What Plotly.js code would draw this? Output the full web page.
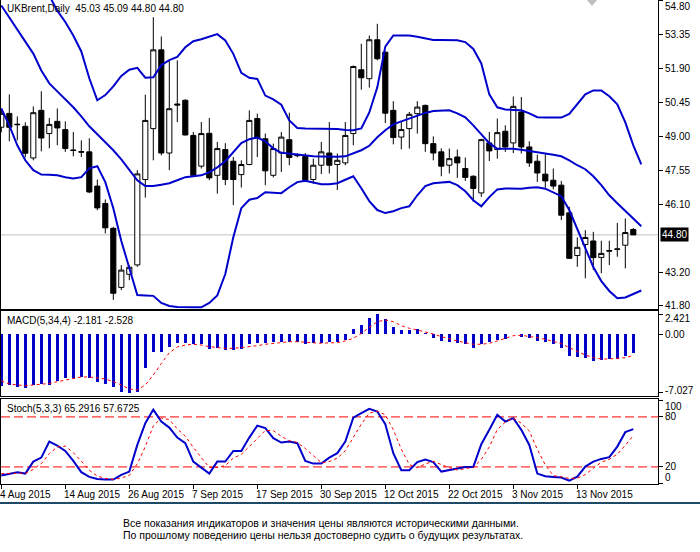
<!DOCTYPE html>
<html>
<head>
<meta charset="utf-8">
<script src="https://cdn.plot.ly/plotly-3.0.1.min.js"></script>
<style>
html,body{margin:0;padding:0;background:#ffffff;}
#chart{width:700px;height:552px;}
</style>
</head>
<body>
<div id="chart"></div>
<script>
// ---------- DATA ----------
const symbolTitle = "UKBrent,Daily\u00a0\u00a045.03 45.09 44.80 44.80";
const macdTitle = "MACD(5,34,4) -2.181 -2.528";
const stochTitle = "Stoch(5,3,3) 65.2916 57.6725";
const lastPrice = 44.80;

const dateLabels = ["4 Aug 2015","14 Aug 2015","26 Aug 2015","7 Sep 2015","17 Sep 2015",
                    "30 Sep 2015","12 Oct 2015","22 Oct 2015","3 Nov 2015","13 Nov 2015"];
const dateBars = [0,8,16,24,32,40,48,56,64,72];

const priceTicks = [54.80,53.35,51.90,50.45,49.00,47.55,46.10,43.20,41.80];
const macdTicks = [2.421,0,-7.027];
const stochTicks = [100,80,20,0];

const openP = [49.39,49.98,49.52,49.43,48.08,50.11,49.12,49.64,49.29,48.42,
               48.35,48.34,46.88,46.14,45.08,42.56,43.12,43.52,47.16,49.33,
               52.69,48.29,50.38,50.54,49.04,47.73,49.13,47.34,48.44,47.94,
               47.37,47.80,49.76,48.90,47.34,48.29,48.86,48.20,48.15,47.16,
               47.77,48.29,47.80,47.87,49.12,51.84,51.46,53.12,52.59,50.11,
               48.97,49.33,49.97,50.32,48.69,48.34,47.77,48.12,47.63,47.30,
               46.59,48.72,48.44,49.22,48.72,50.04,48.55,47.94,47.39,47.13,
               46.92,45.74,43.92,44.39,44.54,43.84,44.13,44.18,44.36,45.03];
const highP = [50.19,50.79,49.85,49.60,50.28,50.92,49.78,50.19,49.64,49.19,
               48.83,48.92,47.16,46.31,45.14,43.51,43.51,47.56,50.78,54.08,
               53.26,52.24,52.24,50.58,49.19,49.61,49.78,48.76,48.71,48.12,
               47.98,50.11,49.97,49.12,48.69,49.19,50.01,48.28,48.29,48.05,
               48.76,49.61,48.27,49.61,52.02,52.95,53.30,53.80,52.62,50.50,
               49.61,50.04,50.50,50.36,49.00,48.49,48.48,48.44,48.10,47.34,
               48.90,49.19,49.76,49.47,50.70,50.68,48.79,48.22,48.24,47.63,
               47.10,46.00,44.69,45.00,44.93,44.55,44.55,45.31,45.50,45.09];
const lowP  = [49.17,48.79,48.83,48.11,47.98,48.36,48.49,48.62,48.34,48.15,
               48.12,46.58,45.85,44.86,42.03,42.45,42.87,43.44,46.39,47.98,
               48.19,47.56,49.61,49.04,47.27,47.63,47.13,46.56,46.92,46.07,
               46.82,47.77,48.12,46.92,47.25,47.48,47.77,48.11,47.05,46.98,
               47.39,47.42,46.71,47.77,48.62,50.99,51.08,52.24,49.57,48.66,
               48.45,48.48,49.12,48.34,47.98,47.30,47.42,47.23,47.10,46.21,
               46.42,47.95,48.05,48.34,48.29,48.27,47.70,47.06,46.81,46.74,
               45.43,43.77,43.44,42.95,43.30,43.16,43.51,43.87,43.37,44.80];
const closeP = [49.98,49.39,49.50,48.28,50.01,48.93,49.51,49.36,48.48,48.40,
               48.33,46.63,45.95,45.10,42.31,43.30,43.42,47.40,49.68,52.69,
               48.29,50.18,50.34,49.06,47.34,49.12,47.23,48.48,47.16,47.16,
               47.80,49.68,48.93,47.53,48.48,48.97,48.10,48.18,47.13,47.77,
               48.34,47.77,47.98,49.04,51.98,51.50,53.12,52.31,49.99,48.95,
               49.29,49.94,50.25,48.69,48.29,47.73,48.05,47.87,47.25,46.78,
               48.86,48.38,49.16,48.55,50.28,48.55,47.87,47.44,47.10,46.88,
               45.64,43.80,44.27,44.69,43.83,44.01,44.11,44.20,44.90,44.80];

// Bollinger bands (drawn one bar further right than the last candle)
const bbUpper = [58.97,58.67,58.58,58.20,57.50,56.25,55.00,54.36,53.88,53.30,
                 52.62,51.48,50.54,50.76,51.13,51.58,51.84,51.92,51.50,51.52,
                 52.04,52.25,52.39,52.80,53.06,53.14,53.26,53.36,53.09,52.52,
                 51.71,51.50,51.45,50.74,50.58,50.35,49.68,49.36,49.34,49.34,
                 49.33,49.33,49.31,49.27,49.26,49.34,50.02,51.09,52.83,53.30,
                 53.30,53.30,53.25,53.17,53.11,53.11,53.10,53.10,53.02,52.73,
                 52.11,50.79,50.24,50.15,50.13,50.11,49.98,49.82,49.81,49.80,
                 49.80,49.96,50.37,50.79,50.96,50.96,50.71,50.37,49.60,48.62,
                 47.81];
const bbMiddle = [54.58,54.07,53.60,53.09,52.53,51.81,51.26,50.92,50.58,50.24,
                  49.85,49.43,49.09,48.75,48.41,48.02,47.60,47.13,46.88,46.88,
                  46.94,47.00,47.13,47.26,47.30,47.34,47.47,47.68,47.94,48.32,
                  48.71,48.88,48.95,48.79,48.49,48.30,48.26,48.24,48.19,48.15,
                  48.14,48.13,48.13,48.15,48.28,48.41,48.60,48.96,49.26,49.51,
                  49.64,49.77,49.90,50.00,50.08,50.10,50.11,49.98,49.81,49.47,
                  49.09,48.71,48.47,48.47,48.47,48.43,48.37,48.30,48.27,48.22,
                  48.15,47.98,47.77,47.60,47.30,46.92,46.49,46.15,45.81,45.47,
                  45.17];
const bbLower = [50.19,49.47,48.62,47.98,47.56,47.37,47.36,47.34,47.26,47.20,
                 47.26,47.64,47.73,47.05,45.94,44.54,43.39,42.24,42.22,42.20,
                 41.90,41.77,41.73,41.71,41.71,41.71,41.90,42.22,43.13,44.70,
                 45.94,46.30,46.37,46.62,46.60,46.58,46.83,47.05,47.11,47.05,
                 46.96,46.96,47.00,47.15,47.30,46.79,46.24,45.86,45.73,45.81,
                 45.94,46.02,46.49,46.88,47.00,47.03,47.06,46.92,46.66,46.28,
                 46.02,46.41,46.74,46.78,46.78,46.77,46.81,46.83,46.77,46.62,
                 46.45,45.86,45.05,44.20,43.43,42.83,42.41,42.10,42.13,42.28,
                 42.43];

const macdHist = [-6.17,-6.08,-6.29,-6.48,-6.08,-6.00,-6.08,-5.60,-5.20,-5.20,
                  -5.12,-5.28,-5.69,-6.00,-6.29,-6.89,-7.027,-6.96,-4.00,-2.07,
                  -2.07,-1.47,-1.06,-1.06,-1.18,-1.18,-1.78,-1.59,-1.87,-1.87,
                  -1.75,-1.18,-1.06,-1.06,-0.87,-0.87,-0.87,-0.87,-1.18,-1.06,
                  -0.99,-0.94,-0.87,-0.66,0.66,1.14,1.95,2.421,1.87,0.90,
                  0.54,0.54,0.62,0.20,-0.46,-0.75,-0.87,-0.99,-1.18,-1.59,
                  -1.18,-0.87,-0.66,-0.58,0.10,-0.30,-0.38,-0.75,-0.87,-1.18,
                  -1.67,-2.55,-2.75,-2.87,-3.15,-3.11,-2.99,-2.95,-2.59,-2.181];
const macdSignal = [-5.60,-5.96,-6.08,-6.17,-6.08,-6.00,-5.90,-5.69,-5.48,-5.28,
                    -5.12,-5.12,-5.20,-5.36,-5.69,-6.08,-6.57,-6.69,-6.08,-4.88,
                    -3.50,-2.20,-1.50,-1.27,-1.18,-1.27,-1.47,-1.59,-1.67,-1.67,
                    -1.59,-1.47,-1.35,-1.18,-1.06,-0.95,-0.87,-0.87,-0.95,-1.06,
                    -1.06,-1.00,-0.99,-0.78,-0.46,0.14,0.82,1.54,1.75,1.54,
                    1.06,0.75,0.54,0.34,0.06,-0.26,-0.54,-0.78,-0.99,-1.18,
                    -1.18,-1.06,-0.78,-0.46,-0.14,-0.10,-0.20,-0.38,-0.58,-0.87,
                    -1.10,-1.59,-2.07,-2.47,-2.79,-2.95,-2.95,-2.87,-2.79,-2.528];

const stochMain = [9.6,11.2,13.7,12.0,26.4,31.2,50.4,45.6,39.2,27.2,
                   13.7,8.0,5.6,4.8,4.8,10.4,14.4,46.4,72.5,88.8,
                   74.4,67.2,55.2,48.5,26.4,19.2,12.0,26.4,26.4,39.2,
                   39.2,55.2,69.6,66.5,54.5,49.2,50.4,48.5,27.2,24.0,
                   24.0,31.2,36.5,50.4,79.2,84.5,89.7,86.4,71.3,36.5,
                   16.0,16.0,25.7,28.8,25.7,14.4,16.0,18.5,20.0,20.0,
                   47.3,64.5,82.5,74.4,78.5,64.5,46.4,12.0,8.9,8.0,
                   7.2,3.6,8.4,20.4,26.4,29.6,31.7,44.4,61.7,65.2916];
const stochSignal = [12.0,12.0,12.5,12.5,17.0,24.0,36.0,44.0,45.0,37.0,
                     27.0,16.0,9.0,6.1,5.1,6.7,9.9,23.7,44.4,69.2,
                     78.6,76.8,65.6,57.0,43.4,31.4,19.2,19.2,21.6,30.7,
                     35.0,44.5,54.7,63.8,63.5,56.7,51.4,49.4,42.0,33.2,
                     25.1,26.4,30.6,39.4,55.4,71.4,84.5,86.9,82.5,64.7,
                     41.3,22.8,19.2,23.5,26.7,23.0,19.0,16.3,18.2,19.5,
                     29.0,44.0,64.8,73.8,78.5,72.5,63.1,41.0,22.4,9.6,
                     8.0,6.3,6.4,10.8,18.4,25.5,29.2,35.2,45.9,57.6725];
const stochLevels = [80,20];

// ---------- BUILD ----------
const barIdx = openP.map((_, i) => i);
const bbIdx = bbUpper.map((_, i) => i);

const FONT = "Liberation Sans, Arial, sans-serif";
const BLUE = "#0000cd";
const H = 552, ML = 1, MR = 42, PW = 700 - ML - MR;
const px = x => (x - ML) / PW;
const py = y => 1 - y / H;
const xr = [-0.0375, 82.0875];

const traces = [
  {type:'candlestick', x:barIdx, open:openP, high:highP, low:lowP, close:closeP,
   xaxis:'x', yaxis:'y', whiskerwidth:0, line:{width:1},
   increasing:{line:{color:'#000000', width:1}, fillcolor:'#ffffff'},
   decreasing:{line:{color:'#000000', width:1}, fillcolor:'#000000'},
   hoverinfo:'skip'},
  {type:'scatter', mode:'lines', x:bbIdx, y:bbUpper, xaxis:'x', yaxis:'y', line:{color:BLUE, width:2}, hoverinfo:'skip'},
  {type:'scatter', mode:'lines', x:bbIdx, y:bbMiddle, xaxis:'x', yaxis:'y', line:{color:BLUE, width:2}, hoverinfo:'skip'},
  {type:'scatter', mode:'lines', x:bbIdx, y:bbLower, xaxis:'x', yaxis:'y', line:{color:BLUE, width:2}, hoverinfo:'skip'},
  {type:'bar', x:barIdx, y:macdHist, xaxis:'x2', yaxis:'y2', width:0.375, marker:{color:BLUE, line:{width:0}}, hoverinfo:'skip'},
  {type:'scatter', mode:'lines', x:barIdx, y:macdSignal, xaxis:'x2', yaxis:'y2', line:{color:'#ff0000', width:1, dash:'dot'}, hoverinfo:'skip'},
  {type:'scatter', mode:'lines', x:barIdx, y:stochMain, xaxis:'x3', yaxis:'y3', line:{color:BLUE, width:2}, hoverinfo:'skip'},
  {type:'scatter', mode:'lines', x:barIdx, y:stochSignal, xaxis:'x3', yaxis:'y3', line:{color:'#ff0000', width:1, dash:'dot'}, hoverinfo:'skip'}
];

const axisBase = {showgrid:false, zeroline:false, showline:true, mirror:true,
                  linecolor:'#000000', linewidth:1, fixedrange:true};
const yBase = Object.assign({}, axisBase, {side:'right', tickmode:'array', ticks:'outside',
                  ticklen:4, tickcolor:'#000000', tickwidth:1, tickfont:{size:10, color:'#000000'}});

const shapes = [
  {type:'line', xref:'paper', yref:'y', x0:0, x1:1, y0:lastPrice, y1:lastPrice,
   line:{color:'#c0c0c0', width:1}, layer:'below'},
  ...stochLevels.map(v => ({type:'line', xref:'paper', yref:'y3', x0:0, x1:1, y0:v, y1:v,
   line:{color:'#ff0000', width:1, dash:'9px,4px'}, layer:'below'})),
  {type:'line', xref:'paper', yref:'paper', x0:px(0), x1:px(700), y0:py(503), y1:py(503),
   line:{color:'#1e4a66', width:2}},
  {type:'path', xref:'paper', yref:'paper',
   path:`M ${px(586)},${py(-1)} L ${px(598)},${py(-1)} L ${px(592)},${py(6)} Z`,
   fillcolor:'#c0c0c0', line:{width:0}}
];

const annotations = [
  {xref:'paper', yref:'paper', x:px(5), y:py(9), xanchor:'left', yanchor:'middle', showarrow:false,
   text:symbolTitle, font:{size:10, color:'#000000'}},
  {xref:'paper', yref:'paper', x:px(5), y:py(320), xanchor:'left', yanchor:'middle', showarrow:false,
   text:macdTitle, font:{size:10, color:'#000000'}},
  {xref:'paper', yref:'paper', x:px(5), y:py(408), xanchor:'left', yanchor:'middle', showarrow:false,
   text:stochTitle, font:{size:10, color:'#000000'}},
  {xref:'paper', yref:'y', x:1, y:priceTicks[0], xanchor:'left', yanchor:'top', xshift:5, yshift:1, showarrow:false,
   text:priceTicks[0].toFixed(2), font:{size:10, color:'#000000'}},
  {xref:'paper', yref:'y', x:1, y:lastPrice, xanchor:'left', yanchor:'middle', xshift:2, showarrow:false,
   text:lastPrice.toFixed(2), bgcolor:'#000000', borderpad:1, font:{size:10, color:'#ffffff'}},
  {xref:'paper', yref:'y2', x:1, y:macdTicks[0], xanchor:'left', yanchor:'middle', xshift:5, yshift:-4, showarrow:false,
   text:macdTicks[0].toFixed(3), font:{size:10, color:'#000000'}},
  {xref:'paper', yref:'y2', x:1, y:macdTicks[2], xanchor:'left', yanchor:'middle', xshift:5, yshift:2, showarrow:false,
   text:macdTicks[2].toFixed(3), font:{size:10, color:'#000000'}},
  {xref:'paper', yref:'y3', x:1, y:stochTicks[0], xanchor:'left', yanchor:'middle', xshift:5, yshift:-6, showarrow:false,
   text:String(stochTicks[0]), font:{size:10, color:'#000000'}},
  {xref:'paper', yref:'y3', x:1, y:stochTicks[3], xanchor:'left', yanchor:'middle', xshift:5, yshift:6, showarrow:false,
   text:String(stochTicks[3]), font:{size:10, color:'#000000'}},
  ...dateBars.map((b, i) => ({xref:'x3', yref:'paper', x:b, y:py(494), xanchor:'left', yanchor:'middle',
   xshift:-3, showarrow:false, text:dateLabels[i], font:{size:10, color:'#000000'}})),
  {xref:'paper', yref:'paper', x:px(123), y:py(523), xanchor:'left', yanchor:'middle', xshift:-2, showarrow:false,
   text:"Все показания индикаторов и значения цены являются историческими данными.",
   font:{size:10.5, color:'#000000'}},
  {xref:'paper', yref:'paper', x:px(123), y:py(535), xanchor:'left', yanchor:'middle', xshift:-2, showarrow:false,
   text:"По прошлому поведению цены нельзя достоверно судить о будущих результатах.",
   font:{size:10.5, color:'#000000'}}
];

const layout = {
  width:700, height:552, margin:{l:ML, r:MR, t:0, b:0, pad:0},
  paper_bgcolor:'#ffffff', plot_bgcolor:'#ffffff',
  font:{family:FONT, size:10, color:'#000000'},
  showlegend:false, hovermode:false, dragmode:false,
  boxgap:0.2, boxgroupgap:0.2, bargap:0,
  xaxis:Object.assign({}, axisBase, {domain:[0,1], range:xr, anchor:'y', showticklabels:false, ticks:'',
        rangeslider:{visible:false}}),
  xaxis2:Object.assign({}, axisBase, {domain:[0,1], range:xr, anchor:'y2', showticklabels:false, ticks:''}),
  xaxis3:Object.assign({}, axisBase, {domain:[0,1], range:xr, anchor:'y3', tickmode:'array',
        tickvals:dateBars, showticklabels:false, ticks:'outside', ticklen:4, tickcolor:'#000000'}),
  yaxis:Object.assign({}, yBase, {domain:[py(309),1], range:[41.64,54.815], anchor:'x',
        tickvals:priceTicks, ticktext:priceTicks.map((v, i) => i === 0 ? '' : v.toFixed(2))}),
  yaxis2:Object.assign({}, yBase, {domain:[py(396),py(311)], range:[-7.413,2.831], anchor:'x2',
        tickvals:macdTicks, ticktext:macdTicks.map(v => v === 0 ? '0.00' : '')}),
  yaxis3:Object.assign({}, yBase, {domain:[py(484),py(399)], range:[-0.5,101.5], anchor:'x3',
        tickvals:stochTicks, ticktext:stochTicks.map(v => (v === 80 || v === 20) ? String(v) : '')}),
  shapes:shapes,
  annotations:annotations
};

Plotly.newPlot('chart', traces, layout, {staticPlot:true, displayModeBar:false, responsive:false});
</script>
</body>
</html>
